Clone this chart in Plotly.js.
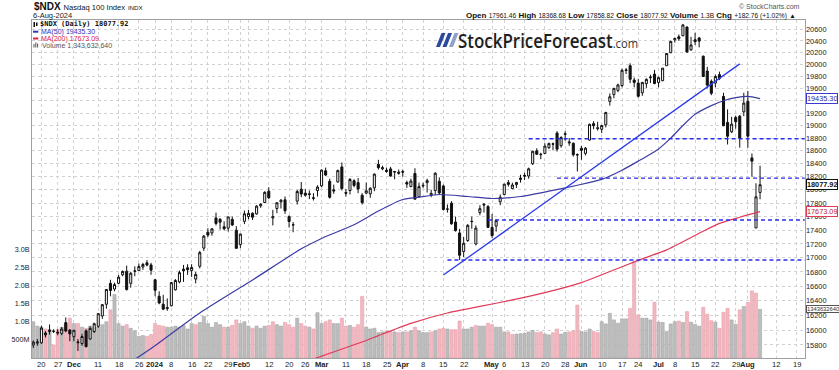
<!DOCTYPE html>
<html><head><meta charset="utf-8">
<script src="https://cdn.plot.ly/plotly-3.0.1.min.js"></script>
<style>html,body{margin:0;padding:0;background:#fff;}#chart{width:839px;height:370px;}</style>
</head><body><div id="chart"></div>
<script>
const dates = [
'2023-11-16','2023-11-17','2023-11-20','2023-11-21','2023-11-22','2023-11-24','2023-11-27','2023-11-28','2023-11-29','2023-11-30',
'2023-12-01','2023-12-04','2023-12-05','2023-12-06','2023-12-07','2023-12-08','2023-12-11','2023-12-12','2023-12-13','2023-12-14','2023-12-15','2023-12-18','2023-12-19','2023-12-20','2023-12-21','2023-12-22','2023-12-26','2023-12-27','2023-12-28','2023-12-29',
'2024-01-02','2024-01-03','2024-01-04','2024-01-05','2024-01-08','2024-01-09','2024-01-10','2024-01-11','2024-01-12','2024-01-16','2024-01-17','2024-01-18','2024-01-19','2024-01-22','2024-01-23','2024-01-24','2024-01-25','2024-01-26','2024-01-29','2024-01-30','2024-01-31',
'2024-02-01','2024-02-02','2024-02-05','2024-02-06','2024-02-07','2024-02-08','2024-02-09','2024-02-12','2024-02-13','2024-02-14','2024-02-15','2024-02-16','2024-02-20','2024-02-21','2024-02-22','2024-02-23','2024-02-26','2024-02-27','2024-02-28','2024-02-29',
'2024-03-01','2024-03-04','2024-03-05','2024-03-06','2024-03-07','2024-03-08','2024-03-11','2024-03-12','2024-03-13','2024-03-14','2024-03-15','2024-03-18','2024-03-19','2024-03-20','2024-03-21','2024-03-22','2024-03-25','2024-03-26','2024-03-27','2024-03-28',
'2024-04-01','2024-04-02','2024-04-03','2024-04-04','2024-04-05','2024-04-08','2024-04-09','2024-04-10','2024-04-11','2024-04-12','2024-04-15','2024-04-16','2024-04-17','2024-04-18','2024-04-19','2024-04-22','2024-04-23','2024-04-24','2024-04-25','2024-04-26','2024-04-29','2024-04-30',
'2024-05-01','2024-05-02','2024-05-03','2024-05-06','2024-05-07','2024-05-08','2024-05-09','2024-05-10','2024-05-13','2024-05-14','2024-05-15','2024-05-16','2024-05-17','2024-05-20','2024-05-21','2024-05-22','2024-05-23','2024-05-24','2024-05-28','2024-05-29','2024-05-30','2024-05-31',
'2024-06-03','2024-06-04','2024-06-05','2024-06-06','2024-06-07','2024-06-10','2024-06-11','2024-06-12','2024-06-13','2024-06-14','2024-06-17','2024-06-18','2024-06-20','2024-06-21','2024-06-24','2024-06-25','2024-06-26','2024-06-27','2024-06-28',
'2024-07-01','2024-07-02','2024-07-03','2024-07-05','2024-07-08','2024-07-09','2024-07-10','2024-07-11','2024-07-12','2024-07-15','2024-07-16','2024-07-17','2024-07-18','2024-07-19','2024-07-22','2024-07-23','2024-07-24','2024-07-25','2024-07-26','2024-07-29','2024-07-30','2024-07-31',
'2024-08-01','2024-08-02','2024-08-05','2024-08-06'];

const futureDates = ['2024-08-07','2024-08-08','2024-08-09','2024-08-12','2024-08-13','2024-08-14','2024-08-15','2024-08-16','2024-08-19','2024-08-20','2024-08-21'];

const opens = [15800,15825,15830,15960,15980,15985,15970,15955,16100,16000,
15910,15830,15820,15990,15880,15980,16050,16190,16350,16640,16560,16640,16760,16810,16640,16810,16820,16870,16930,16900,
16690,16460,16350,16290,16330,16550,16660,16840,16860,16820,16700,16880,17140,17370,17360,17580,17560,17450,17430,17560,17400,
17190,17530,17600,17650,17640,17760,17810,17980,17580,17720,17820,17850,17600,17480,17830,18010,17950,17940,17880,17990,
18060,18290,18130,18000,18120,18350,17960,17990,18140,18110,17920,17950,17940,18030,18390,18320,18300,18320,18270,18270,
18280,18110,18050,18250,17900,18070,18110,17920,17990,18130,18060,17710,17800,17520,17360,17090,17250,17530,17200,17660,17770,17750,
17440,17460,17820,17930,18110,18020,18080,18180,18220,18210,18400,18600,18540,18560,18650,18710,18880,18680,18860,18740,18720,18540,
18640,18560,18770,19030,18950,18940,19010,19390,19500,19570,19650,19900,19980,19740,19690,19530,19680,19780,19840,
19700,19730,19980,20200,20420,20470,20490,20640,20250,20420,20450,20140,19890,19720,19690,19830,19470,19050,18900,19130,19150,19220,
19390,18490,17433,17961.46];

const highs = [15860,15880,16060,15985,16075,16010,16010,16040,16170,16010,
16000,15880,15950,16010,16050,16100,16230,16350,16560,16690,16650,16760,16820,16890,16800,16880,16920,16930,16970,16930,
16700,16530,16480,16430,16660,16700,16820,16900,16910,16910,16800,17100,17330,17430,17430,17660,17580,17530,17600,17600,17460,
17350,17690,17700,17660,17770,17800,17980,18040,17700,17810,17860,17900,17620,17520,18000,18120,18010,17990,17950,18070,
18310,18340,18170,18080,18310,18420,18010,18180,18160,18180,17950,18110,18040,18250,18460,18370,18340,18350,18290,18310,
18310,18140,18170,18330,18110,18110,18170,18000,18270,18190,18080,17780,17830,17600,17420,17300,17490,17600,17470,17770,17800,17770,
17640,17560,17930,18090,18150,18110,18120,18230,18260,18340,18600,18640,18570,18720,18730,18730,18910,18830,18910,18800,18730,18560,
18680,18660,19030,19070,19060,19010,19220,19520,19610,19680,19930,19940,20020,19780,19760,19710,19770,19830,19910,
19800,19940,20190,20400,20460,20510,20690,20650,20470,20540,20470,20150,19960,19750,19830,19880,19530,19260,19140,19160,19170,19530,
19560,18560,18100,18368.68];

const lows = [15760,15790,15815,15900,15940,15960,15930,15930,15970,15850,
15850,15720,15790,15770,15870,15960,16030,16150,16290,16460,16530,16630,16740,16540,16580,16740,16810,16830,16880,16760,
16460,16350,16270,16260,16320,16540,16640,16660,16760,16730,16640,16850,17100,17300,17320,17470,17410,17400,17380,17460,17135,
17140,17490,17560,17550,17630,17730,17800,17860,17470,17650,17720,17640,17440,17370,17780,17890,17900,17860,17840,17900,
18040,18210,17870,17940,18110,17990,17900,17930,18040,17950,17780,17940,17880,17980,18310,18300,18260,18200,18160,18230,
18200,18030,18040,17860,17880,18030,17960,17890,17920,17920,17690,17660,17480,17380,16970,17010,17230,17420,17180,17620,17660,17440,
17290,17380,17770,17920,18050,18010,18030,18110,18150,18170,18380,18540,18470,18550,18630,18610,18590,18650,18760,18680,18510,18280,
18460,18530,18760,18940,18920,18880,18970,19320,19440,19540,19620,19840,19690,19620,19450,19480,19610,19690,19670,
19620,19720,19980,20190,20370,20400,20480,20200,20230,20330,20290,19790,19600,19490,19620,19740,18990,18700,18880,18950,18650,19150,
18650,18200,17433,17858.82];

const closes = [15838,15840,16027,15935,15998,15982,15961,16013,15987,15948,
15997,15840,15913,15777,16022,16085,16221,16345,16555,16540,16623,16727,16808,16554,16782,16814,16878,16906,16898,16826,
16543,16368,16283,16305,16650,16680,16791,16820,16833,16863,16765,17075,17314,17329,17420,17499,17518,17421,17596,17477,17137,
17344,17642,17648,17592,17756,17783,17962,17882,17600,17807,17845,17686,17527,17478,17975,17937,17919,17932,17874,18043,
18302,18226,17888,17985,18294,18019,17949,18158,18067,18014,17808,17986,18024,18240,18339,18339,18281,18210,18280,18255,
18271,18088,18133,17860,18049,18062,18140,17946,18253,17954,17706,17712,17494,17394,17037,17210,17471,17527,17431,17718,17783,17441,
17322,17541,17890,18087,18084,18074,18113,18161,18210,18322,18593,18547,18546,18674,18714,18705,18627,18809,18868,18727,18539,18537,
18608,18642,19019,18997,18963,19001,19210,19465,19603,19659,19903,19908,19752,19701,19473,19701,19751,19789,19683,
19780,19939,20186,20392,20440,20439,20676,20211,20331,20387,20397,19800,19657,19522,19800,19768,18997,18830,19023,19060,18797,19362,
18830,18440,17895.16,18077.92];

// volume in millions of shares
const volumesM = [1000,880,850,800,780,360,780,850,950,1100,
950,950,850,820,880,850,850,920,1000,1330,1750,950,880,920,820,750,600,620,600,650,
950,900,880,850,850,880,850,900,800,950,920,980,1150,950,850,980,920,850,850,900,1050,
950,1000,880,820,880,820,880,900,1000,920,880,980,920,850,1100,950,880,850,800,1250,
950,1000,1050,950,950,1100,880,900,850,920,1700,850,800,820,700,720,750,730,720,700,
720,720,750,850,750,700,700,720,750,800,820,800,780,780,1020,800,800,850,900,880,880,960,
920,850,850,720,720,650,660,670,680,720,760,700,720,660,640,700,800,660,710,720,750,1460,
730,720,800,730,700,1000,940,1230,1050,960,1080,1080,1370,2660,1190,1100,1100,1050,1540,
990,980,730,940,1000,1020,980,1280,990,930,880,1400,1210,1030,990,820,1260,1370,1050,930,1330,1420,
1530,1850,1790,1343.63264];

const ma50Dates = ['2023-12-20','2023-12-29','2024-01-18','2024-02-06','2024-02-23','2024-03-01','2024-03-13','2024-03-21','2024-04-01','2024-04-05','2024-04-12','2024-04-23','2024-05-01','2024-05-10','2024-05-21','2024-05-31','2024-06-10','2024-06-17','2024-06-24','2024-07-01','2024-07-05','2024-07-10','2024-07-15','2024-07-19','2024-07-24','2024-07-29','2024-08-01','2024-08-06'];
const ma50Values = [15540,15754,16231,16687,17130,17280,17480,17683,17855,17890,17930,17900,17870,17900,17980,18070,18160,18300,18440,18630,18800,19000,19180,19320,19400,19450,19470,19435.30];

const ma200Dates = ['2024-02-23','2024-02-28','2024-03-18','2024-03-21','2024-04-03','2024-04-16','2024-04-26','2024-05-08','2024-05-20','2024-06-03','2024-06-10','2024-06-24','2024-07-03','2024-07-16','2024-07-23','2024-07-30','2024-08-06'];
const ma200Values = [15560,15615,15860,15925,16090,16230,16320,16410,16510,16650,16760,16965,17115,17355,17500,17590,17673.09];

const trendDates = ['2024-04-15','2024-07-30'];
const trendValues = [16756,20010];

const supportLevels = [18790,18180,17550,16970];
const supportStarts = ['2024-05-14','2024-05-23','2024-04-30','2024-04-16'];

const priceTicks = [15800,16000,16200,16400,16600,16800,17000,17200,17400,17600,17800,18000,18200,18400,18600,18800,19000,19200,19400,19600,19800,20000,20200,20400,20600];
const volTicks = [5e8,1e9,1.5e9,2e9,2.5e9,3e9];
const volTickLabels = ['500M','1.0B','1.5B','2.0B','2.5B','3.0B'];

const tickDates = ['2023-11-20','2023-11-27','2023-12-01','2023-12-11','2023-12-18','2023-12-26','2024-01-02','2024-01-08','2024-01-16','2024-01-22','2024-01-29','2024-02-01','2024-02-05','2024-02-12','2024-02-20','2024-02-26','2024-03-01','2024-03-11','2024-03-18','2024-03-25','2024-04-01','2024-04-08','2024-04-15','2024-04-22','2024-05-01','2024-05-06','2024-05-13','2024-05-20','2024-05-28','2024-06-03','2024-06-10','2024-06-17','2024-06-24','2024-07-01','2024-07-08','2024-07-15','2024-07-22','2024-07-29','2024-08-01','2024-08-12','2024-08-19'];
const tickLabels = ['20','27','Dec','11','18','26','2024','8','16','22','29','Feb','5','12','20','26','Mar','11','18','25','Apr','8','15','22','May','6','13','20','28','Jun','10','17','24','Jul','8','15','22','29','Aug','12','19'];

// ---------- build ----------
const axisDates = dates.concat(futureDates);
const pos = d => axisDates.indexOf(d);
const xs = dates.map(pos);
const lastIdx = axisDates.length - 1;
const volumes = volumesM.map(v => Math.round(v * 1e6));
const isDown = closes.map((c, i) => i > 0 && c < closes[i - 1]);

const FONT = 'Liberation Sans, Arial, sans-serif';
const PX = v => (v - 32) / 773;
const PY = v => (358 - v) / 338;

const traces = [];
traces.push({
  type: 'bar', x: xs, y: volumes, yaxis: 'y', hoverinfo: 'skip', showlegend: false,
  marker: { color: isDown.map(d => d ? '#f2b8c1' : '#bdbdbd'),
            line: { color: isDown.map(d => d ? '#e596a3' : '#9d9d9d'), width: 0.5 } }
});
traces.push({ type: 'scatter', mode: 'lines', x: ma200Dates.map(pos), y: ma200Values, yaxis: 'y2',
  line: { color: '#e03a58', width: 1.2, shape: 'spline', smoothing: 0.6 }, hoverinfo: 'skip', showlegend: false });
traces.push({ type: 'scatter', mode: 'lines', x: ma50Dates.map(pos), y: ma50Values, yaxis: 'y2',
  line: { color: '#3b3ba6', width: 1.2, shape: 'spline', smoothing: 0.6 }, hoverinfo: 'skip', showlegend: false });
supportLevels.forEach((lvl, i) => {
  traces.push({ type: 'scatter', mode: 'lines', x: [pos(supportStarts[i]), lastIdx], y: [lvl, lvl], yaxis: 'y2',
    line: { color: '#2b2bf0', width: 1.3, dash: '4px,3px' }, hoverinfo: 'skip', showlegend: false });
});
traces.push({ type: 'scatter', mode: 'lines', x: trendDates.map(pos), y: trendValues, yaxis: 'y2',
  line: { color: '#2a3ae8', width: 1.3 }, hoverinfo: 'skip', showlegend: false });
traces.push({
  type: 'candlestick', x: xs, open: opens, high: highs, low: lows, close: closes, yaxis: 'y2',
  increasing: { line: { color: '#111', width: 1 }, fillcolor: '#ffffff' },
  decreasing: { line: { color: '#111', width: 1 }, fillcolor: '#111111' },
  whiskerwidth: 0, hoverinfo: 'skip', showlegend: false
});

const n = closes.length - 1;
const lastClose = closes[n], prevClose = closes[n - 1];
const chg = lastClose - prevClose;
const chgPct = chg / prevClose * 100;
const fmtInt = v => v.toString().replace(/\B(?=(\d{3})+(?!\d))/g, ',');
const lastVol = volumes[n];
const lastMa50 = ma50Values[ma50Values.length - 1];
const lastMa200 = ma200Values[ma200Values.length - 1];

const V = s => '<span style="font-size:6.6px">' + s + '</span>';
const annotations = [
  { xref: 'paper', yref: 'paper', x: PX(32), y: PY(6.5), xanchor: 'left', yanchor: 'middle', showarrow: false,
    text: '<b>$NDX</b> <span style="font-size:7.6px">Nasdaq 100 Index</span> <span style="font-size:6.2px">INDX</span>',
    font: { family: FONT, size: 10, color: '#111' } },
  { xref: 'paper', yref: 'paper', x: PX(31), y: PY(15.5), xanchor: 'left', yanchor: 'middle', showarrow: false,
    text: '6-Aug-2024', font: { family: FONT, size: 7.5, color: '#222' } },
  { xref: 'paper', yref: 'paper', x: PX(802), y: PY(6), xanchor: 'right', yanchor: 'middle', showarrow: false,
    text: '© StockCharts.com', font: { family: FONT, size: 7, color: '#555' } },
  { xref: 'paper', yref: 'paper', x: PX(798), y: PY(15), xanchor: 'right', yanchor: 'middle', showarrow: false,
    text: '<b>Open</b> ' + V(opens[n].toFixed(2)) + ' <b>High</b> ' + V(highs[n].toFixed(2)) + ' <b>Low</b> ' + V(lows[n].toFixed(2)) +
          ' <b>Close</b> ' + V(lastClose.toFixed(2)) + ' <b>Volume</b> ' + V((lastVol / 1e9).toFixed(1) + 'B') +
          ' <b>Chg</b> ' + V((chg >= 0 ? '+' : '') + chg.toFixed(2) + ' (' + (chg >= 0 ? '+' : '') + chgPct.toFixed(2) + '%)') + ' ' + V('▲'),
    font: { family: FONT, size: 8, color: '#111' } },
  // legend
  { xref: 'paper', yref: 'paper', x: PX(38), y: PY(24.3), xanchor: 'left', yanchor: 'middle', showarrow: false,
    text: '<b>$NDX (Daily) ' + lastClose.toFixed(2) + '</b>', font: { family: 'DejaVu Sans Mono, monospace', size: 7, color: '#111' } },
  { xref: 'paper', yref: 'paper', x: PX(39), y: PY(31.7), xanchor: 'left', yanchor: 'middle', showarrow: false,
    text: 'MA(50) ' + lastMa50.toFixed(2), font: { family: FONT, size: 7, color: '#3333bb' } },
  { xref: 'paper', yref: 'paper', x: PX(39), y: PY(38.5), xanchor: 'left', yanchor: 'middle', showarrow: false,
    text: 'MA(200) ' + lastMa200.toFixed(2), font: { family: FONT, size: 7, color: '#dd2244' } },
  { xref: 'paper', yref: 'paper', x: PX(40), y: PY(45.3), xanchor: 'left', yanchor: 'middle', showarrow: false,
    text: 'Volume ' + fmtInt(lastVol), font: { family: FONT, size: 7, color: '#555' } },
  // logo (one text: brand + .com)
  { xref: 'paper', yref: 'paper', x: PX(547.5), y: PY(40.5), xanchor: 'center', yanchor: 'middle', showarrow: false,
    text: 'StockPriceForecast<span style="font-size:12.5px;font-weight:400;fill:#333">.com</span>',
    font: { family: 'Open Sans, Roboto, sans-serif', size: 19, weight: 600, color: '#1e1e1e' } },
  // right tags
  { xref: 'paper', x: 1, xanchor: 'left', xshift: 1, yref: 'y2', y: Math.log10(lastMa50), yanchor: 'middle', showarrow: false,
    text: lastMa50.toFixed(2), font: { family: FONT, size: 7.3, color: '#2a2aa8' }, bordercolor: '#3a3ad0', borderwidth: 1, borderpad: 0, bgcolor: '#fff' },
  { xref: 'paper', x: 1, xanchor: 'left', xshift: 1, yref: 'y2', y: Math.log10(lastClose), yanchor: 'middle', showarrow: false,
    text: '<b>' + lastClose.toFixed(2) + '</b>', font: { family: FONT, size: 7.3, color: '#111' }, bordercolor: '#111', borderwidth: 1, borderpad: 0, bgcolor: '#fff' },
  { xref: 'paper', x: 1, xanchor: 'left', xshift: 1, yref: 'y2', y: Math.log10(lastMa200), yanchor: 'middle', showarrow: false,
    text: lastMa200.toFixed(2), font: { family: FONT, size: 7.3, color: '#c0203c' }, bordercolor: '#e03a58', borderwidth: 1, borderpad: 0, bgcolor: '#fff' },
  { xref: 'paper', x: 1, xanchor: 'left', xshift: 1, yref: 'y', y: lastVol, yanchor: 'middle', showarrow: false,
    text: String(lastVol), font: { family: FONT, size: 5.8, color: '#333' }, bordercolor: '#555', borderwidth: 1, borderpad: 0, bgcolor: '#fff' }
];

// x-axis labels (drawn as annotations so they sit just under the frame)
const isBold = l => isNaN(+l) || +l > 31;
tickDates.forEach((d, i) => {
  const l = tickLabels[i];
  annotations.push({ xref: 'x', yref: 'paper', x: pos(d), y: PY(364), xanchor: 'center', yanchor: 'middle', showarrow: false,
    text: isBold(l) ? '<b>' + l + '</b>' : l, font: { family: FONT, size: 7.6, color: '#222' } });
});

const stripe = (x, col) => ({ type: 'path', xref: 'paper', yref: 'paper', layer: 'above',
  path: 'M ' + PX(x) + ' ' + PY(47) + ' L ' + PX(x + 4) + ' ' + PY(47) + ' L ' + PX(x + 9.5) + ' ' + PY(33) + ' L ' + PX(x + 5.5) + ' ' + PY(33) + ' Z',
  fillcolor: col, line: { width: 0 } });
const shapes = [
  stripe(436, '#2b4a9b'), stripe(442.5, '#2b4a9b'), stripe(449, '#8ea2c9'),
  { type: 'line', xref: 'paper', yref: 'paper', x0: PX(33), x1: PX(38.3), y0: PY(31.7), y1: PY(31.7), line: { color: '#3333bb', width: 2 } },
  { type: 'line', xref: 'paper', yref: 'paper', x0: PX(33), x1: PX(38.3), y0: PY(38.5), y1: PY(38.5), line: { color: '#dd2244', width: 2 } },
  { type: 'rect', xref: 'paper', yref: 'paper', x0: PX(33.5), x1: PX(35), y0: PY(27), y1: PY(22), fillcolor: '#111', line: { width: 0 } },
  { type: 'rect', xref: 'paper', yref: 'paper', x0: PX(36), x1: PX(37.5), y0: PY(26), y1: PY(22.5), fillcolor: '#111', line: { width: 0 } },
  { type: 'rect', xref: 'paper', yref: 'paper', x0: PX(33.5), x1: PX(34.5), y0: PY(47.5), y1: PY(44), fillcolor: '#555', line: { width: 0 } },
  { type: 'rect', xref: 'paper', yref: 'paper', x0: PX(35.3), x1: PX(36.3), y0: PY(47.5), y1: PY(42.5), fillcolor: '#555', line: { width: 0 } },
  { type: 'rect', xref: 'paper', yref: 'paper', x0: PX(37.1), x1: PX(38.1), y0: PY(47.5), y1: PY(43.5), fillcolor: '#555', line: { width: 0 } }
];

const layout = {
  width: 839, height: 370,
  margin: { l: 32, r: 34, t: 20, b: 12 },
  paper_bgcolor: '#fff', plot_bgcolor: '#fff',
  showlegend: false, hovermode: false,
  bargap: 0.22, boxgap: 0.28,
  font: { family: FONT, size: 8, color: '#222' },
  xaxis: {
    type: 'linear', range: [-0.32, 190.07], rangeslider: { visible: false },
    tickmode: 'array', tickvals: tickDates.map(pos), showticklabels: false, ticks: '',
    showgrid: true, gridcolor: '#d2d2d2', griddash: 'dot', gridwidth: 1,
    showline: true, mirror: true, linecolor: '#a0a0a0', linewidth: 1, zeroline: false, fixedrange: true
  },
  yaxis: {
    range: [0, 9.32e9], side: 'left', tickmode: 'array', tickvals: volTicks, ticktext: volTickLabels,
    tickfont: { family: FONT, size: 7.2, color: '#222' }, ticks: '',
    showgrid: false, zeroline: false, showline: true, mirror: true, linecolor: '#a0a0a0', fixedrange: true
  },
  yaxis2: {
    type: 'log', overlaying: 'y', side: 'right', range: [4.19391, 4.31727],
    tickmode: 'array', tickvals: priceTicks, ticktext: priceTicks.map(String),
    tickfont: { family: FONT, size: 7.4, color: '#222' }, ticks: '',
    showgrid: true, gridcolor: '#d2d2d2', griddash: 'dot', gridwidth: 1, zeroline: false, showline: false, fixedrange: true
  },
  annotations: annotations,
  shapes: shapes
};

Plotly.newPlot('chart', traces, layout, { staticPlot: true, displayModeBar: false }).then(() => {
  document.querySelectorAll('#chart text.annotation-text').forEach(t => {
    if (t.textContent === 'StockPriceForecast.com') {
      t.setAttribute('textLength', '180');
      t.setAttribute('lengthAdjust', 'spacingAndGlyphs');
    }
  });
});
</script>
</body></html>
